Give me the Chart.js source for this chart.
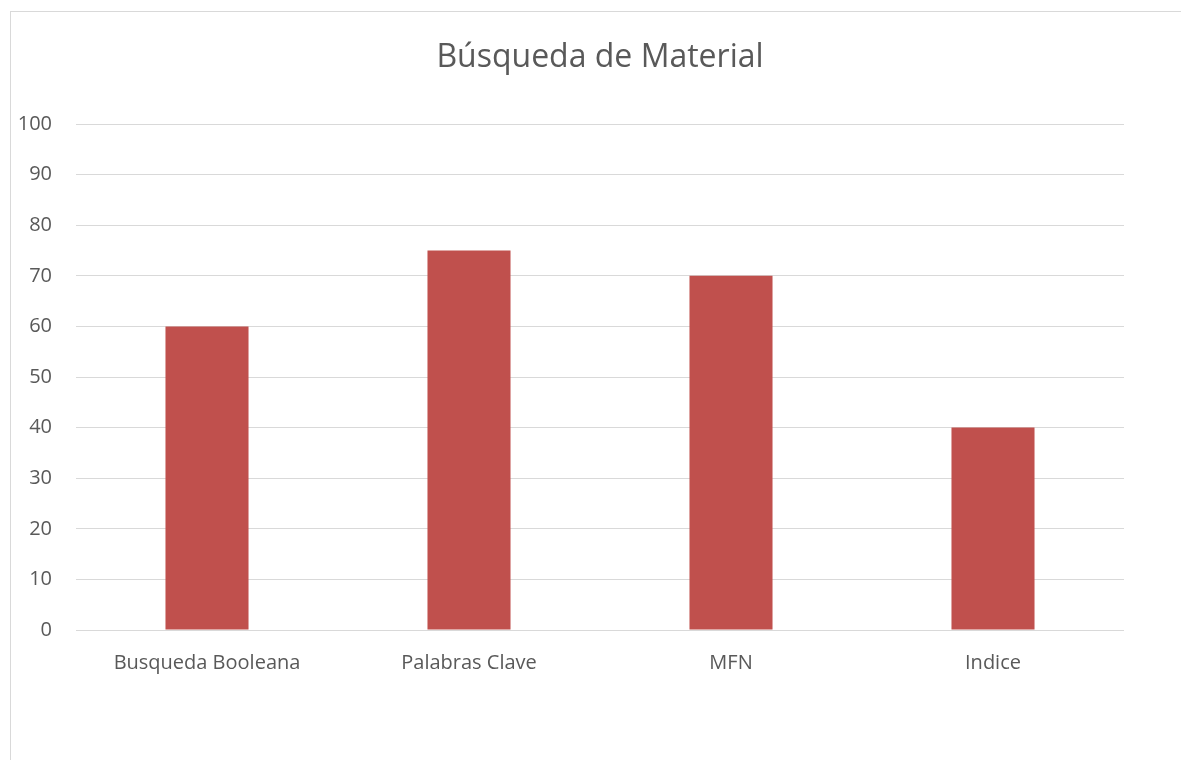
<!DOCTYPE html>
<html>
<head>
<meta charset="utf-8">
<script src="https://cdn.jsdelivr.net/npm/chart.js@4"></script>
<style>
  html, body { margin: 0; padding: 0; background: #fff; }
  #wrap { position: relative; width: 1181px; height: 760px; overflow: hidden; }
  #frame { position: absolute; left: 10px; top: 11px; width: 1200px; height: 800px; border: 1px solid #d9d9d9; box-sizing: border-box; }
  canvas { position: absolute; left: 0; top: 0; }
</style>
</head>
<body>
<div id="wrap">
  <div id="frame"></div>
  <canvas id="myChart" width="1181" height="760"></canvas>
</div>
<script>
const title = 'Búsqueda de Material';
const categories = ['Busqueda Booleana', 'Palabras Clave', 'MFN', 'Indice'];
const values = [60, 75, 70, 40];
const yTicks = [0, 10, 20, 30, 40, 50, 60, 70, 80, 90, 100];

const textColor = '#595959';
const font = "'Open Sans', sans-serif";

const ctx = document.getElementById('myChart').getContext('2d');
new Chart(ctx, {
    type: 'bar',
    data: {
        labels: categories,
        datasets: [{
            data: values,
            backgroundColor: '#c0504d',
            borderWidth: 0,
            categoryPercentage: 1,
            barPercentage: 0.317
        }]
    },
    options: {
        responsive: false,
        animation: false,
        layout: { padding: 0 },
        plugins: {
            legend: { display: false },
            tooltip: { enabled: false },
            title: {
                display: true,
                fullSize: false, // centre the title over the plot, like the original
                text: title,
                color: textColor,
                font: { family: font, size: 32, weight: 'normal', lineHeight: 1.2 },
                padding: { top: 39, bottom: 46.6 }
            }
        },
        scales: {
            y: {
                min: 0,
                max: 100,
                afterBuildTicks: s => { s.ticks = yTicks.map(v => ({ value: v })); },
                afterFit: s => { s.width = 76; },
                grid: { color: '#d9d9d9', lineWidth: 1, drawTicks: false },
                border: { display: false },
                ticks: { color: textColor, font: { family: font, size: 20 }, padding: 24 }
            },
            // empty right-hand margin so the plot ends where the original does
            yRight: {
                position: 'right',
                afterFit: s => { s.width = 57; },
                grid: { display: false },
                border: { display: false },
                ticks: { display: false }
            },
            x: {
                afterFit: s => { s.height = 130; },
                grid: { display: false },
                border: { display: false },
                ticks: { color: textColor, font: { family: font, size: 20 }, padding: 13, maxRotation: 0 }
            }
        }
    }
});
</script>
</body>
</html>
